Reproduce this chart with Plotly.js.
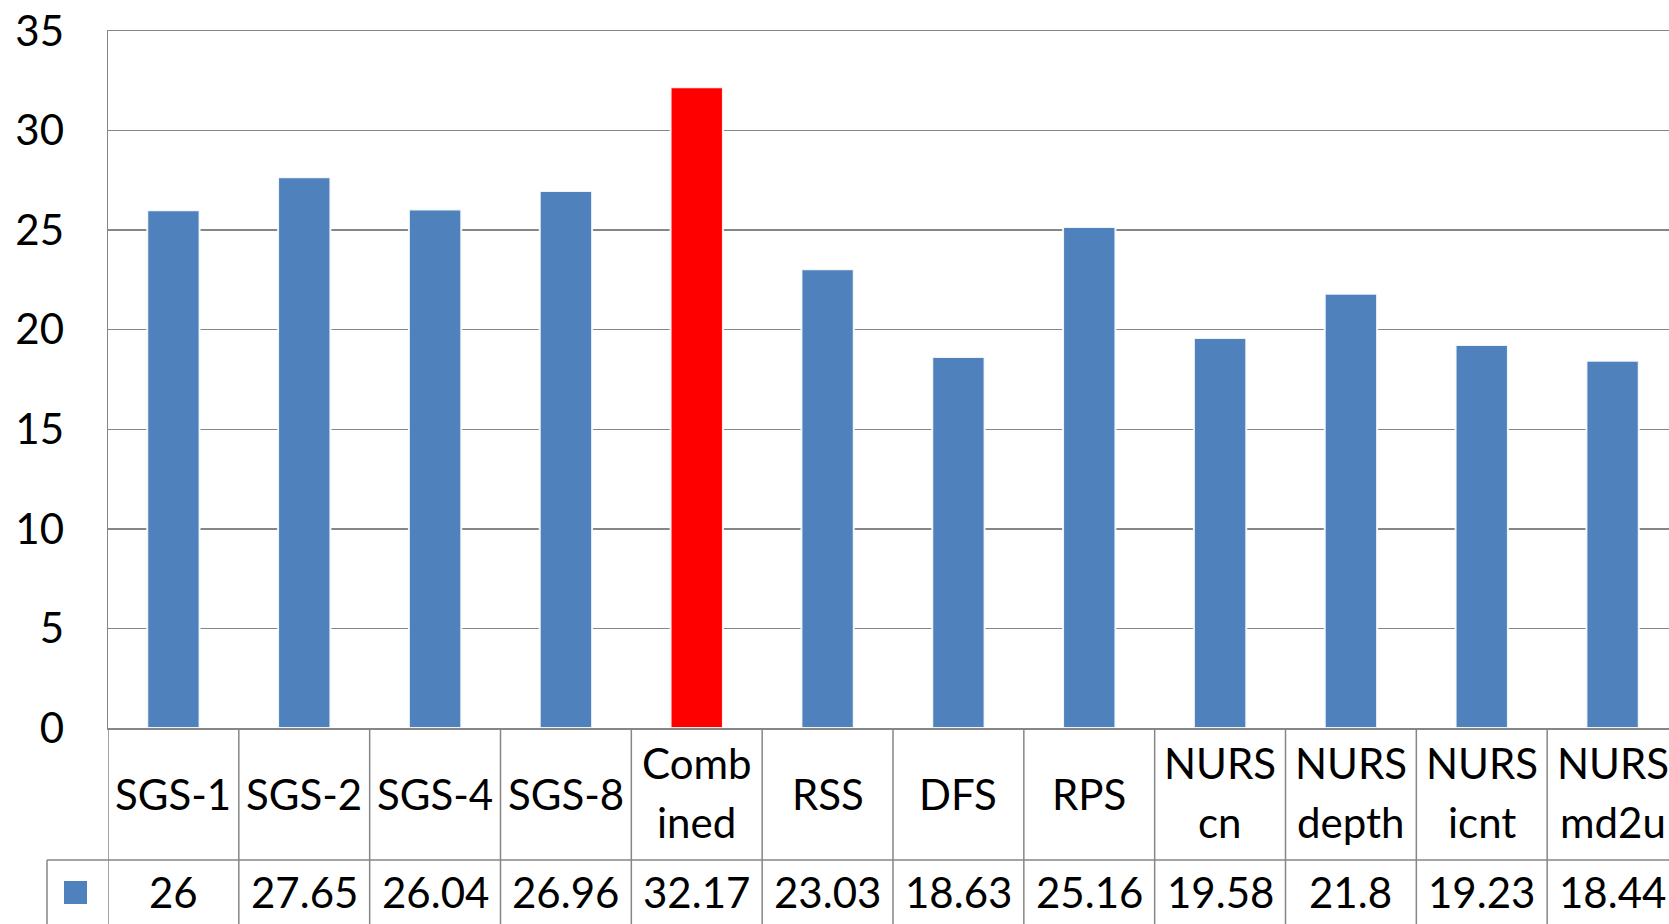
<!DOCTYPE html>
<html>
<head>
<meta charset="utf-8">
<script src="https://cdn.plot.ly/plotly-3.0.1.min.js"></script>
<style>
  html, body { margin: 0; padding: 0; overflow: hidden; background: #fff; width: 1669px; height: 924px; }
  #chart { width: 1678px; height: 924px; }
</style>
</head>
<body>
<div id="chart"></div>
<script>
// Sampling methods and their scores
const categories = ['SGS-1', 'SGS-2', 'SGS-4', 'SGS-8', 'Combined', 'RSS', 'DFS', 'RPS',
                    'NURS cn', 'NURS depth', 'NURS icnt', 'NURS md2u'];
// Header text of the data table, one inner array per line
const headerLines = [['SGS-1'], ['SGS-2'], ['SGS-4'], ['SGS-8'], ['Comb', 'ined'], ['RSS'], ['DFS'], ['RPS'],
                     ['NURS', 'cn'], ['NURS', 'depth'], ['NURS', 'icnt'], ['NURS', 'md2u']];
const values = [26, 27.65, 26.04, 26.96, 32.17, 23.03, 18.63, 25.16, 19.58, 21.8, 19.23, 18.44];
const valueLabels = ['26', '27.65', '26.04', '26.96', '32.17', '23.03', '18.63', '25.16', '19.58', '21.8', '19.23', '18.44'];
const highlighted = 'Combined';
const yTicks = [0, 5, 10, 15, 20, 25, 30, 35];

const BLUE = '#4F81BD';
const RED = '#FF0000';
const GRID = '#868686';
const FONT = 'Lato, "Open Sans", sans-serif';

// Plot geometry (pixels)
const W = 1678, H = 924;
const M = { l: 108, r: 0, t: 31, b: 196 };
const plotH = H - M.t - M.b;
const plotW = W - M.l - M.r;
const yPix = px => (H - M.b - px) / plotH;   // pixel row -> paper y
const xPix = px => (px - M.l) / plotW;       // pixel column -> paper x

const n = categories.length;
const idx = categories.map((_, i) => i);

const trace = {
  type: 'bar',
  x: idx,
  y: values,
  width: 0.4,
  marker: {
    color: categories.map(c => c === highlighted ? RED : BLUE),
    line: { color: 'rgba(255,255,255,0.9)', width: 2 }
  },
  hoverinfo: 'skip'
};

const shapes = [];
const annotations = [];

// Column separators of the data table
for (let i = 0; i <= n; i++) {
  shapes.push({
    type: 'line', xref: 'x', yref: 'paper',
    x0: i - 0.5, x1: i - 0.5, y0: 0, y1: yPix(950),
    line: { color: GRID, width: 1.5 }
  });
}
// Row separator between header and values
shapes.push({
  type: 'line', xref: 'paper', yref: 'paper',
  x0: xPix(47), x1: 1.01, y0: yPix(860), y1: yPix(860),
  line: { color: GRID, width: 1.5 }
});
// Left border of the legend-key cell
shapes.push({
  type: 'line', xref: 'paper', yref: 'paper',
  x0: xPix(47), x1: xPix(47), y0: yPix(860), y1: yPix(950),
  line: { color: GRID, width: 1.5 }
});
// Legend key
shapes.push({
  type: 'rect', xref: 'paper', yref: 'paper',
  x0: xPix(64), x1: xPix(87), y0: yPix(881), y1: yPix(904),
  fillcolor: BLUE, line: { width: 0 }
});

// Header labels
headerLines.forEach((lines, i) => {
  const rows = lines.length === 1 ? [794] : [763, 822];
  lines.forEach((t, k) => {
    annotations.push({
      xref: 'x', yref: 'paper', x: i, y: yPix(rows[k]),
      text: t, showarrow: false, xanchor: 'center', yanchor: 'middle',
      font: { family: FONT, size: 42, color: '#000' }
    });
  });
});
// Value row
valueLabels.forEach((t, i) => {
  annotations.push({
    xref: 'x', yref: 'paper', x: i, y: yPix(892),
    text: t, showarrow: false, xanchor: 'center', yanchor: 'middle',
    font: { family: FONT, size: 42, color: '#000' }
  });
});

const layout = {
  width: W,
  height: H,
  margin: M,
  paper_bgcolor: '#fff',
  plot_bgcolor: '#fff',
  showlegend: false,
  bargap: 0.6,
  font: { family: FONT, size: 42, color: '#000' },
  xaxis: {
    range: [-0.5, n - 0.5],
    showticklabels: false,
    ticks: '',
    showgrid: false,
    zeroline: false,
    showline: true,
    mirror: true,
    linecolor: GRID,
    linewidth: 1.5,
    fixedrange: true
  },
  yaxis: {
    range: [0, 35],
    tickvals: yTicks,
    ticktext: yTicks.map(String),
    showgrid: true,
    gridcolor: GRID,
    gridwidth: 1.5,
    zeroline: false,
    showline: true,
    linecolor: GRID,
    linewidth: 1.5,
    ticks: '',
    ticklabelstandoff: 34,
    tickfont: { family: FONT, size: 42, color: '#000' },
    fixedrange: true
  },
  shapes: shapes,
  annotations: annotations
};

Plotly.newPlot('chart', [trace], layout, { displayModeBar: false, staticPlot: true });
</script>
</body>
</html>
